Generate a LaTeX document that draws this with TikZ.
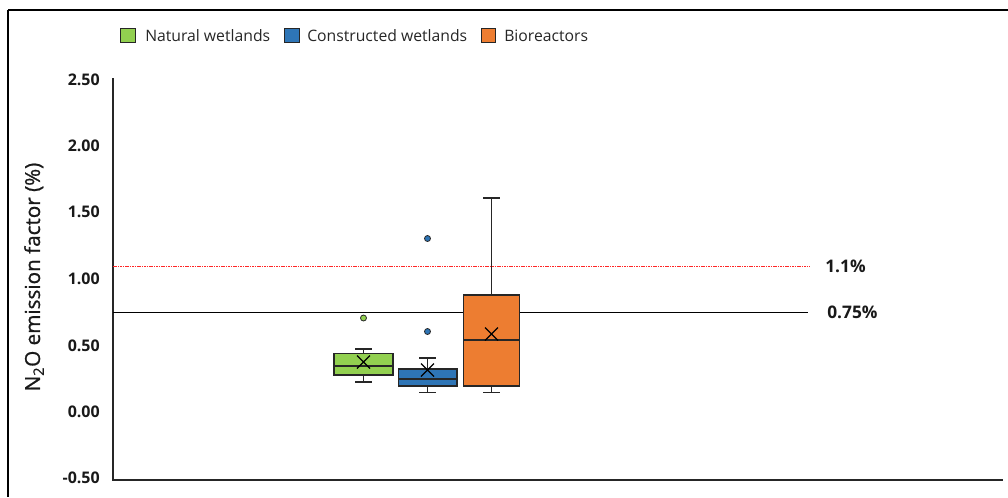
\documentclass[tikz,border=0pt]{standalone}
\usepackage{fontspec}
\setmainfont{Open Sans}
\newfontfamily\semifont[FakeBold=0.9]{Open Sans}
\definecolor{nw}{HTML}{92D050}
\definecolor{cw}{HTML}{2E75B6}
\definecolor{br}{HTML}{ED7D31}
\definecolor{edge}{HTML}{262626}
\tikzset{
  boxst/.style={draw=edge, line width=1.1pt},
  whisk/.style={draw=edge, line width=0.9pt},
  meanx/.style={draw=black, line width=1pt},
  outl/.style={draw=edge, line width=0.6pt},
  tick/.style={anchor=east, font=\bfseries\fontsize{12}{14}\selectfont, text=black!90, inner sep=0pt},
  leg/.style={anchor=west, font=\fontsize{11.8}{14}\selectfont, text=black!85, inner sep=0pt},
  legsq/.style={draw=edge, line width=0.8pt, minimum size=11pt, inner sep=0pt},
  reflab/.style={anchor=west, font=\bfseries\fontsize{13}{15}\selectfont, text=black!90, inner sep=0pt}
}
\begin{document}
\begin{tikzpicture}[x=0.75pt, y=-0.75pt]
\useasboundingbox (0,0) rectangle (1008,497);
% frame
\draw[black, line width=1.6pt] (8,10) -- (1008,10);
\draw[black, line width=1.6pt] (8,10) -- (8,497);
% axes
\draw[edge, line width=0.8pt] (113,78) -- (113,480) -- (1003,480);
% tick labels
\foreach \v/\y in {2.50/80, 2.00/146, 1.50/212, 1.00/279, 0.50/346, 0.00/412, -0.50/478}
  \node[tick] at (100,\y) {\v};
\node[rotate=90, font=\semifont\fontsize{15.5}{18}\selectfont, text=black!90] (ytitle) at (34,277) {N\textsubscript{2}O emission factor (\%)};
% reference lines
\draw[red!85, dashed, dash pattern=on 1.2pt off 0.6pt, line width=0.6pt] (113,266) -- (810,266);
\draw[black, line width=0.7pt] (113,312) -- (808,312);
\node[reflab] (l11) at (825,266) {1.1\%};
\node[reflab] (l075) at (827,312) {0.75\%};
% legend
\node[legsq, fill=nw] (s1) at (128,35.5) {};
\node[leg] (t1) at (145,35.5) {Natural wetlands};
\node[legsq, fill=cw] (s2) at (292,35.5) {};
\node[leg] (t2) at (307,35.5) {Constructed wetlands};
\node[legsq, fill=br] (s3) at (488.5,35.5) {};
\node[leg] (t3) at (504,35.5) {Bioreactors};
% Natural wetlands
\draw[whisk] (363.5,349) -- (363.5,382);
\draw[whisk] (355,349) -- (372,349);
\draw[whisk] (355,382) -- (372,382);
\draw[boxst, fill=nw] (334,353.5) rectangle (393,375);
\draw[boxst] (334,366) -- (393,366);
\draw[meanx] (357,355.5) -- (370,368.5) (357,368.5) -- (370,355.5);
\draw[outl, fill=nw] (363.5,318) circle (3);
% Constructed wetlands
\draw[whisk] (427.5,358) -- (427.5,392.5);
\draw[whisk] (419,358) -- (436,358);
\draw[whisk] (419,392.5) -- (436,392.5);
\draw[boxst, fill=cw] (398.5,369) rectangle (457,386);
\draw[boxst] (398.5,379) -- (457,379);
\draw[meanx] (421,363.5) -- (434,376.5) (421,376.5) -- (434,363.5);
\draw[outl, fill=cw] (427.5,238.5) circle (3);
\draw[outl, fill=cw] (427.5,331.5) circle (3);
% Bioreactors
\draw[whisk] (491.5,198) -- (491.5,392.5);
\draw[whisk] (483,198) -- (500,198);
\draw[whisk] (483,392.5) -- (500,392.5);
\draw[boxst, fill=br] (463.5,295) rectangle (519.5,386);
\draw[boxst] (463.5,340) -- (519.5,340);
\draw[meanx] (485,327.5) -- (498,340.5) (485,340.5) -- (498,327.5);
\end{tikzpicture}
\end{document}
